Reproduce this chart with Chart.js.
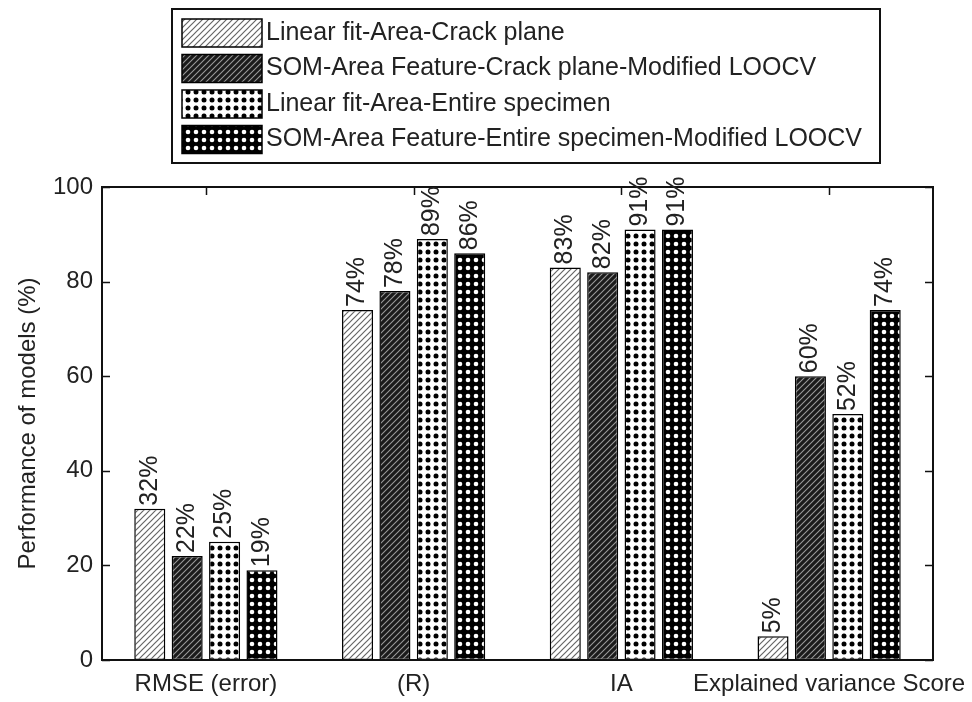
<!DOCTYPE html>
<html>
<head>
<meta charset="utf-8">
<script src="https://cdn.jsdelivr.net/npm/chart.js@4"></script>
<style>
  html, body { margin: 0; padding: 0; background: #fff; }
  #wrap { width: 972px; height: 702px; }
</style>
</head>
<body>
<div id="wrap"><canvas id="chart" width="972" height="702"></canvas></div>
<script>
const categories = ["RMSE (error)", "(R)", "IA", "Explained variance Score"];
const seriesNames = [
  "Linear fit-Area-Crack plane",
  "SOM-Area Feature-Crack plane-Modified LOOCV",
  "Linear fit-Area-Entire specimen",
  "SOM-Area Feature-Entire specimen-Modified LOOCV"
];
const linearCrack = [32, 74, 83, 5];
const somCrack = [22, 78, 82, 60];
const linearEntire = [25, 89, 91, 52];
const somEntire = [19, 86, 91, 74];
const yTicks = [0, 20, 40, 60, 80, 100];

const FONT = "Liberation Sans, Arial, sans-serif";
const INK = "#222";

// --- fill patterns ---
function hatch(bg, fg, lw) {
  const s = 6;
  const c = document.createElement("canvas");
  c.width = s; c.height = s;
  const g = c.getContext("2d");
  g.fillStyle = bg; g.fillRect(0, 0, s, s);
  g.strokeStyle = fg; g.lineWidth = lw;
  g.beginPath();
  g.moveTo(0, s); g.lineTo(s, 0);
  g.moveTo(-1, 1); g.lineTo(1, -1);
  g.moveTo(s - 1, s + 1); g.lineTo(s + 1, s - 1);
  g.stroke();
  return g.createPattern(c, "repeat");
}

function dots(bg, fg, r) {
  const s = 8;
  const c = document.createElement("canvas");
  c.width = s; c.height = s;
  const g = c.getContext("2d");
  g.fillStyle = bg; g.fillRect(0, 0, s, s);
  g.fillStyle = fg;
  g.beginPath();
  g.arc(s / 2, s / 2, r, 0, Math.PI * 2);
  g.fill();
  return g.createPattern(c, "repeat");
}

const fills = [
  hatch("#ffffff", "#666", 1.2),
  hatch("#1a1a1a", "#999", 1.1),
  dots("#ffffff", "#000000", 2.5),
  dots("#000000", "#ffffff", 2.3)
];

// frame + inward ticks like the original figure
const framePlugin = {
  id: "frame",
  afterDatasetsDraw(chart) {
    const { ctx, chartArea: a, scales } = chart;
    ctx.save();
    ctx.strokeStyle = "#111";
    ctx.lineWidth = 1.5;
    ctx.beginPath();
    yTicks.forEach(v => {
      const y = Math.round(scales.y.getPixelForValue(v)) + 0.5;
      ctx.moveTo(a.left, y); ctx.lineTo(a.left + 8, y);
      ctx.moveTo(a.right, y); ctx.lineTo(a.right - 8, y);
    });
    categories.forEach((_, i) => {
      const x = Math.round(scales.x.getPixelForValue(i)) + 0.5;
      ctx.moveTo(x, a.top); ctx.lineTo(x, a.top + 8);
    });
    ctx.stroke();
    ctx.lineWidth = 2;
    ctx.strokeRect(a.left, a.top, a.right - a.left, a.bottom - a.top);
    ctx.restore();
  }
};

// rotated value labels on top of bars
const valueLabels = {
  id: "valueLabels",
  afterDatasetsDraw(chart) {
    const ctx = chart.ctx;
    ctx.save();
    ctx.fillStyle = INK;
    ctx.font = "25px " + FONT;
    ctx.textAlign = "left";
    ctx.textBaseline = "middle";
    chart.data.datasets.forEach((ds, di) => {
      chart.getDatasetMeta(di).data.forEach((bar, i) => {
        ctx.save();
        ctx.translate(bar.x, bar.y - 3);
        ctx.rotate(-Math.PI / 2);
        ctx.fillText(ds.data[i] + "%", 0, 0);
        ctx.restore();
      });
    });
    ctx.restore();
  }
};

// boxed legend above the plot
const boxLegend = {
  id: "boxLegend",
  afterDraw(chart) {
    const ctx = chart.ctx;
    const box = { x: 172, y: 9, w: 708, h: 154 };
    ctx.save();
    ctx.fillStyle = "#fff";
    ctx.fillRect(box.x, box.y, box.w, box.h);
    ctx.strokeStyle = "#111";
    ctx.lineWidth = 2;
    ctx.strokeRect(box.x, box.y, box.w, box.h);
    ctx.font = "25px " + FONT;
    ctx.textBaseline = "middle";
    ctx.textAlign = "left";
    chart.data.datasets.forEach((ds, i) => {
      const cy = 33 + i * 35.5;
      ctx.fillStyle = ds.backgroundColor;
      ctx.fillRect(182, cy - 14, 80, 28);
      ctx.lineWidth = 1.5;
      ctx.strokeStyle = "#000";
      ctx.strokeRect(182, cy - 14, 80, 28);
      ctx.fillStyle = INK;
      ctx.fillText(ds.label, 266, cy);
    });
    ctx.restore();
  }
};

const allSeries = [linearCrack, somCrack, linearEntire, somEntire];

new Chart(document.getElementById("chart"), {
  type: "bar",
  data: {
    labels: categories,
    datasets: allSeries.map((vals, i) => ({
      label: seriesNames[i],
      data: vals,
      backgroundColor: fills[i],
      borderColor: "#000",
      borderWidth: 1.5,
      borderSkipped: false,
      categoryPercentage: 0.72,
      barPercentage: 0.83
    }))
  },
  options: {
    responsive: false,
    animation: false,
    layout: { padding: { top: 187, right: 39, left: 0, bottom: 0 } },
    plugins: {
      legend: { display: false },
      tooltip: { enabled: false }
    },
    scales: {
      x: {
        grid: { display: false, drawTicks: false },
        border: { display: false },
        ticks: { color: INK, font: { size: 24, family: FONT }, padding: 10, maxRotation: 0, autoSkip: false },
        afterFit(s) { s.height = 42; s.paddingLeft = 0; s.paddingRight = 0; }
      },
      y: {
        min: 0, max: 100,
        afterBuildTicks(s) { s.ticks = yTicks.map(v => ({ value: v })); },
        grid: { display: false, drawTicks: false },
        border: { display: false },
        ticks: { color: INK, font: { size: 24, family: FONT }, padding: 9 },
        title: { display: true, text: "Performance of models (%)", color: INK, font: { size: 24, family: FONT }, padding: { top: 14, bottom: 0 } },
        afterFit(s) { s.width = 102; }
      }
    }
  },
  plugins: [framePlugin, valueLabels, boxLegend]
});
</script>
</body>
</html>
